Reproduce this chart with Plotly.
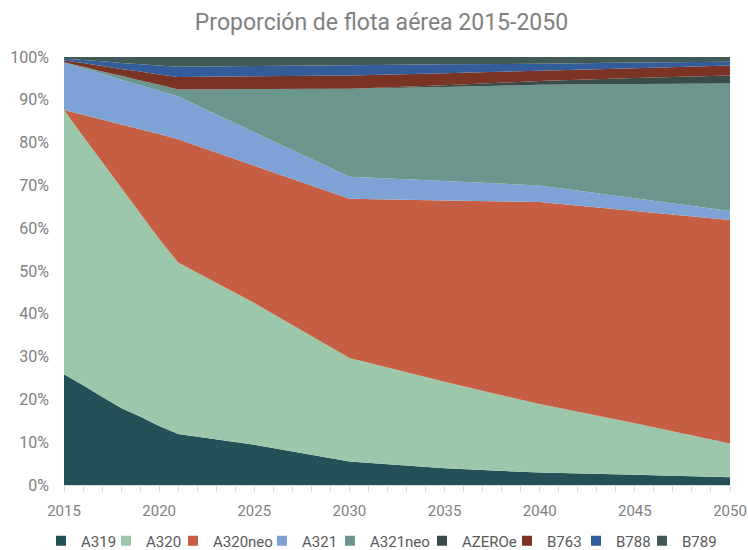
import plotly.graph_objects as go

years = [2015, 2016, 2017, 2018, 2019, 2020, 2021, 2025, 2030, 2035, 2040, 2045, 2050]

A319 = [25.9, 23.3, 20.6, 18.0, 16.0, 13.8, 11.9, 9.4, 5.5, 3.9, 2.9, 2.4, 1.8]
A320 = [61.7, 58.2, 54.9, 51.5, 47.5, 43.7, 40.1, 33.1, 24.2, 20.2, 16.0, 12.0, 7.9]
A320neo = [0.0, 5.0, 9.9, 14.7, 19.6, 24.5, 28.8, 32.1, 37.2, 42.4, 47.2, 49.6, 52.2]
A321 = [11.1, 10.9, 10.7, 10.5, 10.3, 10.1, 10.0, 7.8, 5.1, 4.5, 3.9, 3.0, 2.1]
A321neo = [0.1, 0.3, 0.5, 0.9, 1.1, 1.4, 1.6, 10.1, 20.6, 22.0, 23.5, 26.7, 29.8]
AZEROe = [0, 0, 0, 0, 0, 0, 0, 0, 0, 0.4, 0.9, 1.4, 1.9]
B763 = [0.4, 0.9, 1.3, 1.6, 2.1, 2.4, 2.9, 3.0, 3.1, 2.8, 2.4, 2.3, 2.3]
B788 = [0.4, 0.7, 1.1, 1.4, 1.7, 2.1, 2.4, 2.4, 2.4, 2.1, 1.6, 1.3, 0.9]
B789 = [0.4, 0.7, 1.0, 1.4, 1.7, 2.0, 2.3, 2.1, 1.9, 1.7, 1.6, 1.3, 1.1]

x_ticks = [2015, 2020, 2025, 2030, 2035, 2040, 2045, 2050]
y_ticks = list(range(0, 101, 10))
y_labels = [f"{v}%" for v in y_ticks]

series = [
    ("A319", A319, "#245057"),
    ("A320", A320, "#9DC7AA"),
    ("A320neo", A320neo, "#C55E42"),
    ("A321", A321, "#7FA2D6"),
    ("A321neo", A321neo, "#6B958D"),
    ("AZEROe", AZEROe, "#3B4B4A"),
    ("B763", B763, "#7B3324"),
    ("B788", B788, "#335C9A"),
    ("B789", B789, "#425A57"),
]

# legend swatch centres (px) in the reference, used for legend placement
legend_px = [65, 130, 197, 286, 354, 446, 531, 600, 666]

W, H = 748, 550
ML, MR, MT, MB = 64, 18, 57, 65
PW = W - ML - MR
PH = H - MT - MB

fig = go.Figure()
for name, vals, col in series:
    fig.add_trace(go.Scatter(
        x=years, y=vals, name=name, mode="none",
        stackgroup="one", groupnorm="percent",
        fillcolor=col, line=dict(width=0),
        legendgroup=name, showlegend=False,
    ))

legends = {}
for i, ((name, vals, col), px) in enumerate(zip(series, legend_px)):
    key = "legend" if i == 0 else f"legend{i + 1}"
    fig.add_trace(go.Scatter(
        x=[None], y=[None], name=name, mode="markers",
        marker=dict(symbol="square", size=10, color=col),
        legendgroup=name, showlegend=True, legend=key,
    ))
    legends[key] = dict(
        orientation="h", x=(px - 24 - ML) / PW, xanchor="left",
        y=-(541 - (H - MB)) / PH, yanchor="middle",
        font=dict(size=15, color="#595959", family="Roboto, sans-serif"),
        itemwidth=30, bgcolor="rgba(0,0,0,0)", borderwidth=0,
    )

fig.update_layout(
    width=W, height=H,
    paper_bgcolor="white", plot_bgcolor="white",
    font=dict(family="Roboto, sans-serif", color="#808080", size=16),
    title=dict(text="Proporción de flota aérea 2015-2050", x=0.51, xanchor="center",
               y=1 - 22 / H, yanchor="middle",
               font=dict(size=23, color="#808080")),
    margin=dict(l=ML, r=MR, t=MT, b=MB, autoexpand=False),
    showlegend=True,
    **legends,
)
fig.update_xaxes(
    range=[2015, 2050], tickmode="array", tickvals=x_ticks,
    showline=True, linecolor="#d9d9d9", linewidth=1,
    ticks="outside", ticklen=6, tickcolor="#d9d9d9",
    minor=dict(dtick=1, ticks="outside", ticklen=6, tickcolor="#d9d9d9"),
    showgrid=False, zeroline=False, ticklabelstandoff=6,
    ticklabeloverflow="allow",
    tickfont=dict(size=15, color="#808080"),
)
fig.update_yaxes(
    range=[0, 100], tickmode="array", tickvals=y_ticks, ticktext=y_labels,
    showgrid=True, gridcolor="#d9d9d9", zeroline=False,
    showline=False, ticklabelstandoff=14,
    tickfont=dict(size=16, color="#808080"),
)

fig.write_html(
    "out.html",
    config={"displayModeBar": False},
    post_script="document.body.style.margin='0';document.body.style.padding='0';",
)
